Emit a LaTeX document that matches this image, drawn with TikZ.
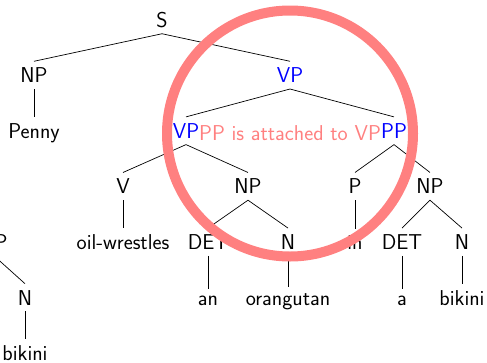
\documentclass[tikz,border=0pt]{standalone}
\begin{document}
\begin{tikzpicture}[x=1pt,y=-1pt,
  every node/.style={font=\fontsize{21.5}{26}\selectfont\sffamily, inner sep=6.2pt},
  cat/.style={anchor=base},
  hl/.style={text=blue},
  branch/.style={line width=0.7pt},
  ring/.style={draw=red!50, line width=10pt},
  note/.style={text=red!50}]
\useasboundingbox (0,0) rectangle (487,362);
\clip (0,0) rectangle (487,362);

% categories and words, one row per tree level
\node[cat] (s) at (162,27) {S};
\node[cat] (np1) at (34,82.6) {NP};
\node[cat,hl] (vp1) at (290,82.6) {VP};
\node[cat] (penny) at (34,138.2) {Penny};
\node[cat,hl] (vp2) at (186,138.2) {VP};
\node[cat,hl] (pp) at (394,138.2) {PP};
\node[cat] (v) at (123,193.8) {V};
\node[cat] (np2) at (248,193.8) {NP};
\node[cat] (p) at (355,193.8) {P};
\node[cat] (np3) at (430,193.8) {NP};
\node[cat] (w1) at (123,249.4) {oil-wrestles};
\node[cat] (det1) at (208,249.4) {DET};
\node[cat] (n1) at (288,249.4) {N};
\node[cat] (w3) at (355,249.4) {in};
\node[cat] (det2) at (402,249.4) {DET};
\node[cat] (n2) at (462,249.4) {N};
\node[cat] (w4) at (208,305) {an};
\node[cat] (w5) at (288,305) {orangutan};
\node[cat] (w6) at (402,305) {a};
\node[cat] (w7) at (462,305) {bikini};

% neighbouring tree running in from the left
\node[cat] (np4) at (-6,249.4) {NP};
\node[cat] (n3) at (25,305) {N};
\node[cat] (w8) at (25,360.6) {bikini};

% branches
\draw[branch] (s.south) -- (np1.north);
\draw[branch] (s.south) -- (vp1.north);
\draw[branch] (np1.south) -- (penny.north);
\draw[branch] (vp1.south) -- (vp2.north);
\draw[branch] (vp1.south) -- (pp.north);
\draw[branch] (vp2.south) -- (v.north);
\draw[branch] (vp2.south) -- (np2.north);
\draw[branch] (v.south) -- (w1.north);
\draw[branch] (np2.south) -- (det1.north);
\draw[branch] (np2.south) -- (n1.north);
\draw[branch] (det1.south) -- (w4.north);
\draw[branch] (n1.south) -- (w5.north);
\draw[branch] (pp.south) -- (p.north);
\draw[branch] (pp.south) -- (np3.north);
\draw[branch] (p.south) -- (w3.north);
\draw[branch] (np3.south) -- (det2.north);
\draw[branch] (np3.south) -- (n2.north);
\draw[branch] (det2.south) -- (w6.north);
\draw[branch] (n2.south) -- (w7.north);
\draw[branch] (np4.south) -- (n3.north);
\draw[branch] (n3.south) -- (w8.north);

% highlight of the attachment
\draw[ring] (290,133.5) circle[radius=123];
\node[note] (remark) at (290,133.5) {PP is attached to VP};
\end{tikzpicture}
\end{document}
